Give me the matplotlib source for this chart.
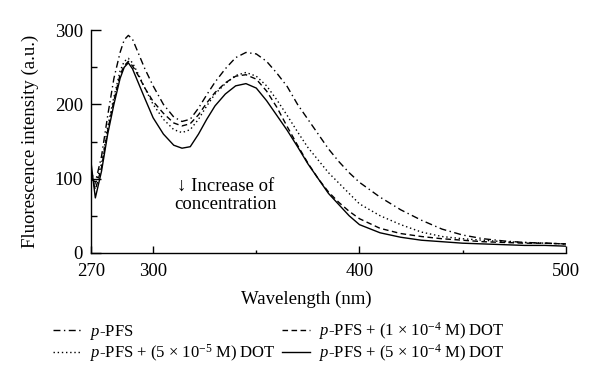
import matplotlib
matplotlib.use("Agg")
import matplotlib.pyplot as plt
from matplotlib.ticker import MultipleLocator

plt.rcParams['font.family'] = ['Liberation Serif', 'DejaVu Serif']
plt.rcParams['mathtext.fontset'] = 'custom'
plt.rcParams['mathtext.rm'] = 'Liberation Serif'
plt.rcParams['mathtext.it'] = 'Liberation Serif:italic'

wavelength = [270, 272, 275, 278, 281, 284, 286, 288, 290, 293, 296, 300, 305, 310, 314,
              318, 322, 326, 330, 335, 340, 345, 350, 355, 360, 365, 370, 375, 380, 385,
              390, 395, 400, 410, 420, 430, 440, 450, 460, 470, 480, 490, 500]

pfs = [100, 95, 130, 185, 235, 270, 287, 293, 288, 268, 248, 225, 200, 183, 177,
       180, 195, 213, 230, 248, 263, 270, 268, 258, 242, 224, 200, 180, 160, 140,
       123, 108, 95, 75, 58, 44, 32, 24, 19, 16, 14, 13, 12]

dot_5e5 = [110, 92, 120, 170, 210, 245, 258, 262, 256, 240, 222, 200, 180, 166, 162,
           166, 180, 198, 214, 228, 239, 243, 238, 225, 206, 185, 163, 142, 125, 108,
           94, 80, 66, 50, 38, 28, 22, 19, 17, 15, 14, 13, 12]

dot_1e4 = [105, 85, 115, 165, 205, 240, 252, 258, 252, 238, 222, 204, 188, 175, 171,
           174, 186, 202, 216, 229, 238, 240, 234, 218, 196, 170, 145, 121, 100, 82,
           68, 56, 46, 33, 26, 22, 19, 17, 15, 14, 13, 13, 12]

dot_5e4 = [120, 74, 110, 160, 200, 235, 250, 256, 248, 228, 208, 182, 160, 145, 141,
           143, 160, 180, 198, 214, 225, 228, 222, 205, 185, 165, 143, 120, 100, 80,
           65, 50, 38, 27, 21, 17, 15, 13, 12, 11, 10, 10, 9]

labels = [r"$\mathit{p}$-PFS",
          r"$\mathit{p}$-PFS + (5 × 10$^{-5}$ M) DOT",
          r"$\mathit{p}$-PFS + (1 × 10$^{-4}$ M) DOT",
          r"$\mathit{p}$-PFS + (5 × 10$^{-4}$ M) DOT"]

fig = plt.figure(figsize=(6.0, 3.92), dpi=100)
ax = fig.add_axes([0.152, 0.355, 0.791, 0.568])

lw = 1.0
ax.plot(wavelength, pfs, color='black', lw=lw, dashes=(5, 2.5, 1, 2.5), label=labels[0])
ax.plot(wavelength, dot_5e5, color='black', lw=lw, dashes=(1, 2), label=labels[1])
ax.plot(wavelength, dot_1e4, color='black', lw=lw, dashes=(4, 2.5), label=labels[2])
ax.plot(wavelength, dot_5e4, color='black', lw=lw, linestyle='-', label=labels[3])

ax.set_xlim(270, 500)
ax.set_ylim(0, 300)
ax.spines['top'].set_visible(False)
ax.spines['right'].set_visible(False)
for s in ['left', 'bottom']:
    ax.spines[s].set_linewidth(1.0)

ax.set_xticks([270, 300, 400, 500])
ax.xaxis.set_minor_locator(MultipleLocator(50))
ax.set_yticks([0, 100, 200, 300])
ax.yaxis.set_minor_locator(MultipleLocator(50))
ax.tick_params(axis='x', which='major', direction='in', length=5, width=1.0, labelsize=13.5, pad=7)
ax.tick_params(axis='x', which='minor', direction='in', length=2.5, width=1.0)
ax.tick_params(axis='y', which='major', direction='in', length=7, width=1.0, labelsize=13.5, pad=6)
ax.tick_params(axis='y', which='minor', direction='in', length=4, width=1.0)

ax.set_xlabel("Wavelength (nm)", fontsize=13.5, va='center')
ax.xaxis.set_label_coords(0.453, -0.21)
ax.set_ylabel("Fluorescence intensity (a.u.)", fontsize=13.5, va='center')
ax.yaxis.set_label_coords(-0.128, 0.5)

ax.text(335, 77, "↓ Increase of\nconcentration", ha='center', va='center',
        fontsize=13.5, linespacing=1.05, family=['Liberation Serif', 'DejaVu Sans'])

fig.legend(loc='upper left', bbox_to_anchor=(0.088, 0.183), ncol=2, frameon=False,
           fontsize=12, handlelength=1.7, handletextpad=0.55, columnspacing=0.35,
           labelspacing=0.0, borderpad=0.0, borderaxespad=0.0)

fig.savefig("out.png", dpi=100)
